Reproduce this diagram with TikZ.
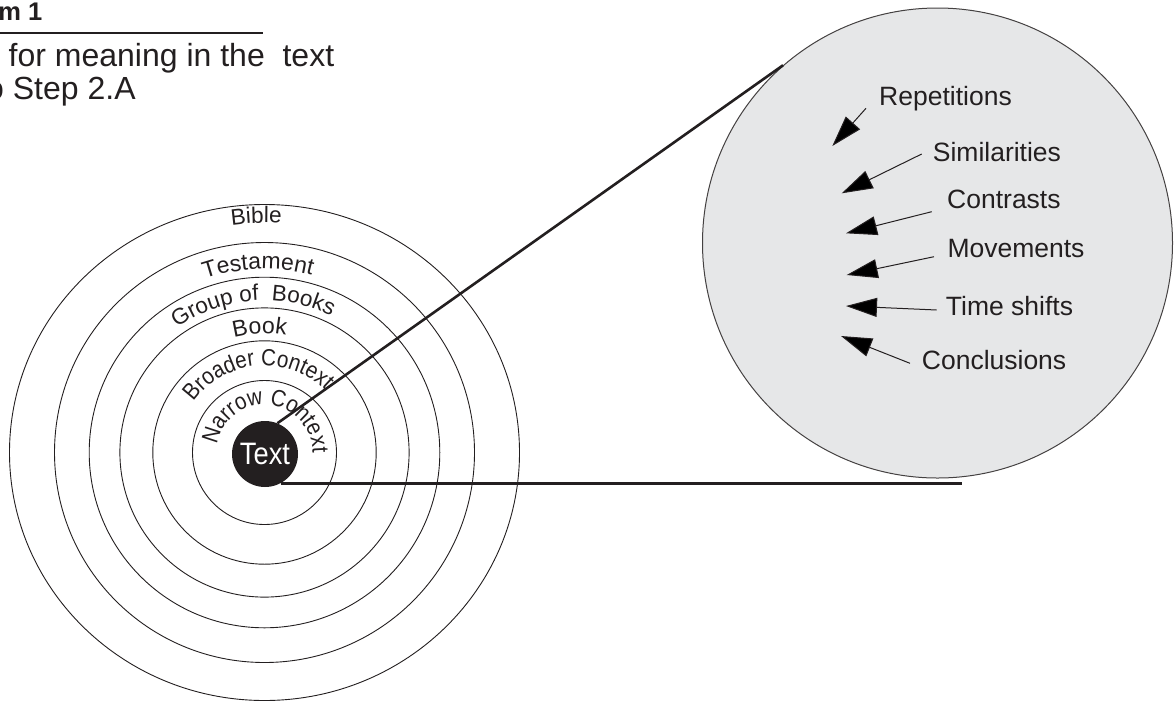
\documentclass[tikz,border=0pt]{standalone}
\usepackage{fontspec}
\setmainfont{Liberation Sans}
\newfontfamily\narrowsans[FakeStretch=0.88]{Liberation Sans}
\usetikzlibrary{decorations.text, arrows.meta}
\definecolor{ink}{HTML}{231F20}
\definecolor{lens}{HTML}{E6E7E8}

% curved label set along the top of a ring: radius, middle angle, font, text
\newcommand\ringtext[4]{%
  \path[decorate, decoration={text along path, text align=center, text color=ink,
      text={|#3|#4}}]
    (ctr) ++({#2+100}:#1) arc[start angle={#2+100}, end angle={#2-100}, radius=#1];}

\begin{document}
\begin{tikzpicture}[x=1pt, y=1pt,
    ring/.style={draw=ink, line width=0.9pt},
    link/.style={draw=ink, line width=2.6pt},
    pointer/.style={draw=ink, line width=1pt, -{Triangle[length=31pt, width=19pt]}},
    lab/.style={anchor=base west, inner sep=0pt, text=ink, font=\fontsize{26.5}{26.5}\selectfont},
    head/.style={anchor=base west, inner sep=0pt, text=ink, font=\fontsize{32}{32}\selectfont}]
  \useasboundingbox (0,0) rectangle (1176,-705);

  % heading
  \node[anchor=base east, inner sep=0pt, text=ink, font=\bfseries\fontsize{25.5}{25.5}\selectfont] (title) at (42.6,-20.5) {m 1};
  \draw[ink, line width=1.3pt] (0,-33) -- (263,-33);
  \node[head] (line1) at (8.5,-66) {for meaning in the\ \ text};
  \node[head] (line2) at (-14,-99) {o Step 2.A};

  % magnifying lens
  \node[circle, draw=ink!85, fill=lens, line width=1pt, minimum size=470pt, inner sep=0pt] (big) at (937.5,-243) {};

  % concentric context rings
  \coordinate (ctr) at (264.5,-452.5);
  \foreach \r in {72, 111.7, 144.6, 175.3, 210}
    \draw[ring] (ctr) circle[radius=\r];
  \draw[ring] (ctr) ellipse[x radius=255, y radius=248];

  \ringtext{229.5}{92}{\fontsize{22.5}{22.5}\selectfont}{Bible}
  \ringtext{183.5}{92}{\fontsize{23}{23}\selectfont}{Testament}
  \ringtext{152}{94.5}{\fontsize{22.5}{22.5}\selectfont}{Group of{~} Books}
  \ringtext{119}{92.2}{\fontsize{23}{23}\selectfont}{Book}
  \ringtext{87}{95}{\narrowsans\fontsize{23.5}{23.5}\selectfont}{Broader Context}
  \ringtext{48}{85}{\narrowsans\fontsize{23.5}{23.5}\selectfont}{Narrow Context}

  % the text at the centre
  \node[circle, fill=ink, minimum size=66pt, inner sep=0pt, text=white,
        font=\narrowsans\fontsize{31}{31}\selectfont] (txt) at (265,-454) {Text};

  % lens connectors
  \coordinate (hend) at (962,-483);
  \draw[link] (txt.68) -- (big.131);
  \draw[link] (txt.-62) -- (txt.-62 -| hend);

  % observations inside the lens
  \node[lab] (rep) at (879,-105)   {Repetitions};
  \node[lab] (sim) at (932.7,-161.7) {Similarities};
  \node[lab] (con) at (947,-208.3) {Contrasts};
  \node[lab] (mov) at (947.3,-257.3) {Movements};
  \node[lab] (tim) at (945.7,-315) {Time shifts};
  \node[lab] (cnc) at (921.7,-369.3) {Conclusions};

  \coordinate (repT) at (832.3,-146);
  \coordinate (simT) at (841.7,-193.3);
  \coordinate (conT) at (846,-233.3);
  \coordinate (movT) at (846.7,-275);
  \coordinate (timT) at (846,-306);
  \coordinate (cncT) at (841,-336);

  \draw[pointer] ([shift={(-13,-3.3)}]rep.base west) -- (repT);
  \draw[pointer] ([shift={(-11,7.7)}]sim.base west) -- (simT);
  \draw[pointer] ([shift={(-15.3,-3.4)}]con.base west) -- (conT);
  \draw[pointer] ([shift={(-13.3,0.6)}]mov.base west) -- (movT);
  \draw[pointer] ([shift={(-9,5)}]tim.base west) -- (timT);
  \draw[pointer] ([shift={(-11.7,6)}]cnc.base west) -- (cncT);
\end{tikzpicture}
\end{document}
